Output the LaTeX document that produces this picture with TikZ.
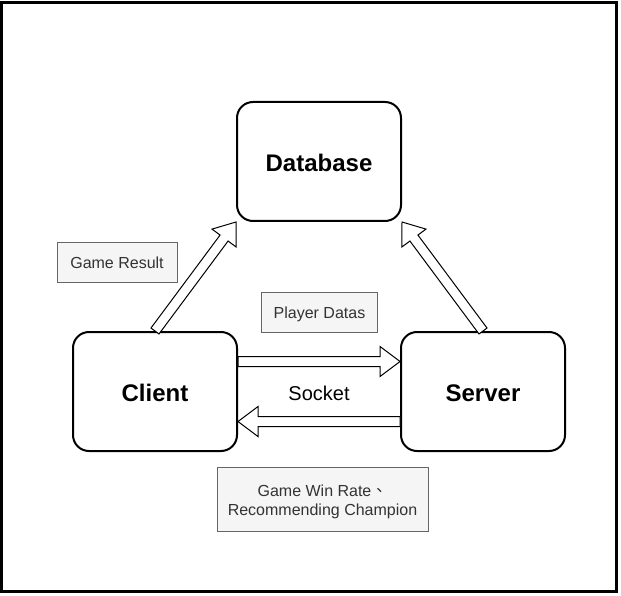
\documentclass[tikz,border=0pt]{standalone}
\usepackage{fontspec}
\setmainfont{Liberation Sans}
\newfontfamily\cjk{Noto Sans CJK TC}
\usetikzlibrary{calc}
\definecolor{lblfill}{HTML}{F5F5F5}
\definecolor{lbldraw}{HTML}{666666}
\definecolor{lbltext}{HTML}{333333}
\tikzset{
 mainbox/.style={draw, line width=2pt, rounded corners=16pt, minimum width=164pt, minimum height=119pt, inner sep=0pt, text height=20pt, text depth=0pt, font=\fontsize{24}{28}\selectfont\bfseries},
 lblbox/.style={draw=lbldraw, fill=lblfill, line width=1pt, text=lbltext, inner sep=0pt, font=\fontsize{16}{19}\selectfont, align=center},
 oneline/.style={text height=13pt, text depth=0pt},
 flexline/.style={draw, fill=white, line width=1pt, line join=miter},
 plaintext/.style={inner sep=0pt, font=\fontsize{20}{24}\selectfont},
}
\newcommand\flexarr[2]{%
 \path (#1) coordinate (fa) (#2) coordinate (fb);
 \path ($(fb)!20pt!(fa)$) coordinate (fh);
 \draw[flexline] ($(fa)!5pt!90:(fb)$) -- ($(fh)!5pt!-90:(fa)$) -- ($(fh)!15pt!-90:(fa)$) -- (fb) -- ($(fh)!15pt!90:(fa)$) -- ($(fh)!5pt!90:(fa)$) -- ($(fa)!5pt!-90:(fb)$) -- cycle;}
\begin{document}
\begin{tikzpicture}[x=1pt,y=-1pt]
\useasboundingbox (0,0) rectangle (621,596);
\draw[line width=3pt] (1.5,2.5) rectangle (616.5,591.5);
\node[mainbox] (database) at (319,161.5) {Database};
\node[mainbox] (client) at (155,391.5) {Client};
\node[mainbox] (server) at (483,391.5) {Server};
\flexarr{client.north}{database.south west}
\flexarr{server.north}{database.south east}
\flexarr{[yshift=30pt]client.east}{[yshift=30pt]server.west}
\flexarr{[yshift=-30pt]server.west}{[yshift=-30pt]client.east}
\node[plaintext] (socket) at (319,393) {Socket};
\node[lblbox, oneline, minimum width=120pt, minimum height=40pt] (gameresult) at (117,262.5) {Game Result};
\node[lblbox, oneline, minimum width=116pt, minimum height=40pt] (playerdatas) at (319.5,312) {Player Datas};
\node[lblbox, minimum width=211pt, minimum height=64pt] (winrate) at (322.5,499) {\rule{0pt}{18pt}Game Win Rate{\cjk 、}\\Recommending Champion};
\end{tikzpicture}
\end{document}
